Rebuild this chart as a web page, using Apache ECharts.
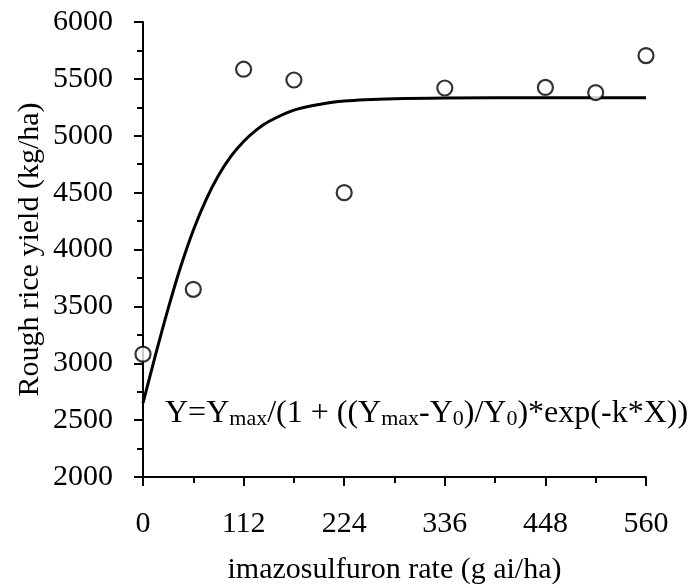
<!DOCTYPE html>
<html>
<head>
<meta charset="utf-8">
<script src="https://cdn.jsdelivr.net/npm/echarts@6/dist/echarts.min.js"></script>
<style>
html,body{margin:0;padding:0;background:#fff;}
#chart{width:696px;height:588px;}
</style>
</head>
<body>
<div id="chart"></div>
<script>
// Observed data points (imazosulfuron rate, rough rice yield)
var rateX = [0, 56, 112, 168, 224, 336, 448, 504, 560];
var yieldY = [3080, 3650, 5585, 5490, 4500, 5420, 5425, 5380, 5705];

// Fitted curve, values
var curveX = [0, 14, 28, 42, 56, 70, 84, 98, 112, 126, 140, 168, 196, 224, 280, 336, 448, 560];
var curveY = [2650, 3075, 3480, 3850, 4170, 4435, 4650, 4820, 4950, 5050, 5125, 5225, 5275, 5305, 5325, 5332, 5335, 5335];

// Axis ticks
var xTicks = [0, 112, 224, 336, 448, 560];
var yTicks = [2000, 2500, 3000, 3500, 4000, 4500, 5000, 5500, 6000];

var FONT = "'Liberation Serif', 'Times New Roman', serif";
var INK = '#000';

var points = rateX.map(function (x, i) { return [x, yieldY[i]]; });
var curve = curveX.map(function (x, i) { return [x, curveY[i]]; });

var chart = echarts.init(document.getElementById('chart'), null, {renderer: 'canvas'});
chart.setOption({
  animation: false,
  backgroundColor: '#fff',
  grid: {left: 143, right: 50, top: 22, bottom: 111, containLabel: false, outerBoundsMode: 'none'},
  xAxis: {
    type: 'value',
    min: xTicks[0], max: xTicks[xTicks.length - 1], interval: xTicks[1] - xTicks[0],
    name: 'imazosulfuron rate (g ai/ha)',
    nameLocation: 'middle', nameGap: 78, nameMoveOverlap: false,
    nameTextStyle: {fontFamily: FONT, fontSize: 30, color: INK},
    axisLine: {show: true, onZero: false, lineStyle: {color: INK, width: 2}},
    axisTick: {show: true, inside: false, length: 9, lineStyle: {color: INK, width: 2}},
    minorTick: {show: true, splitNumber: 2, length: 6, lineStyle: {color: INK, width: 2}},
    splitLine: {show: false},
    axisLabel: {fontFamily: FONT, fontSize: 30, color: INK, margin: 32,
      formatter: function (v) { return String(v); }}
  },
  yAxis: {
    type: 'value',
    min: yTicks[0], max: yTicks[yTicks.length - 1], interval: yTicks[1] - yTicks[0],
    name: 'Rough rice yield (kg/ha)',
    nameLocation: 'middle', nameGap: 98, nameRotate: 90, nameMoveOverlap: false,
    nameTextStyle: {fontFamily: FONT, fontSize: 30, color: INK},
    axisLine: {show: true, onZero: false, lineStyle: {color: INK, width: 2}},
    axisTick: {show: true, inside: false, length: 9, lineStyle: {color: INK, width: 2}},
    minorTick: {show: true, splitNumber: 2, length: 6, lineStyle: {color: INK, width: 2}},
    splitLine: {show: false},
    axisLabel: {fontFamily: FONT, fontSize: 30, color: INK, margin: 30,
      formatter: function (v) { return String(v); }}
  },
  series: [
    {
      type: 'line',
      data: curve,
      smooth: 0.3,
      showSymbol: false,
      lineStyle: {color: INK, width: 3},
      z: 2
    },
    {
      type: 'scatter',
      data: points,
      symbol: 'circle',
      symbolSize: 15,
      itemStyle: {color: '#fff', borderColor: INK, borderWidth: 2.2},
      z: 3
    }
  ],
  graphic: [
    {
      type: 'text',
      left: 165,
      top: 398,
      z: 10,
      style: {
        text: '{a|Y=Y}{b|max}{a|/(1 + ((Y}{b|max}{a|-Y}{b|0}{a|)/Y}{b|0}{a|)*exp(-k*X))}',
        fill: INK,
        rich: {
          a: {fontFamily: FONT, fontSize: 32, lineHeight: 36, verticalAlign: 'bottom', fill: INK},
          b: {fontFamily: FONT, fontSize: 22, lineHeight: 12, verticalAlign: 'bottom', fill: INK}
        }
      }
    }
  ]
});
</script>
</body>
</html>
